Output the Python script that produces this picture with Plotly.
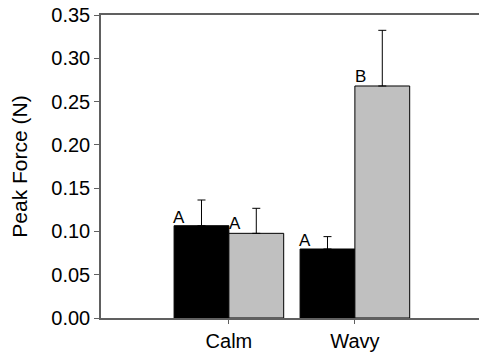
import plotly.graph_objects as go

categories = ["Calm", "Wavy"]
black_vals = [0.1066, 0.0797]
black_err = [0.0297, 0.0143]
grey_vals = [0.0978, 0.2680]
grey_err = [0.0289, 0.0643]
black_letters = ["A", "A"]
grey_letters = ["A", "B"]
y_ticks = [0.00, 0.05, 0.10, 0.15, 0.20, 0.25, 0.30, 0.35]

pos = [1, 2]
bar_w = 0.435
font = "Liberation Sans, Arial, sans-serif"

fig = go.Figure()
fig.add_trace(go.Bar(
    x=pos, y=black_vals, width=bar_w, offset=-bar_w,
    marker=dict(color="black", line=dict(color="black", width=1)),
    error_y=dict(type="data", array=black_err, arrayminus=[0] * len(black_err),
                 symmetric=False, thickness=1, width=4, color="black"),
    showlegend=False,
))
fig.add_trace(go.Bar(
    x=pos, y=grey_vals, width=bar_w, offset=0,
    marker=dict(color="#c0c0c0", line=dict(color="black", width=1)),
    error_y=dict(type="data", array=grey_err, arrayminus=[0] * len(grey_err),
                 symmetric=False, thickness=1, width=4, color="black"),
    showlegend=False,
))

annotations = []
for p, v, t in zip(pos, black_vals, black_letters):
    annotations.append(dict(x=p - bar_w, y=v, text=t, xanchor="left", yanchor="bottom",
                            showarrow=False, font=dict(family=font, size=17, color="black"),
                            xshift=-3, yshift=-3))
for p, v, t in zip(pos, grey_vals, grey_letters):
    annotations.append(dict(x=p, y=v, text=t, xanchor="left", yanchor="bottom",
                            showarrow=False, font=dict(family=font, size=17, color="black"),
                            xshift=-2, yshift=-2))

fig.update_layout(
    width=479, height=354,
    margin=dict(l=101, r=0, t=15, b=36),
    plot_bgcolor="white", paper_bgcolor="white",
    font=dict(family=font, size=20, color="black"),
    annotations=annotations,
    xaxis=dict(range=[-0.015, 2.985], tickvals=pos, ticktext=categories,
               showline=True, linecolor="#606060", linewidth=1.5, mirror=True,
               ticks="outside", ticklen=4, tickcolor="#606060", showgrid=False,
               zeroline=False, tickfont=dict(size=20)),
    yaxis=dict(range=[0, 0.35], tickvals=y_ticks, tickformat=".2f",
               showline=True, linecolor="#606060", linewidth=1.5,
               ticks="outside", ticklen=5, tickcolor="#606060", showgrid=False,
               zeroline=False, tickfont=dict(size=20),
               title=dict(text="Peak Force (N)", font=dict(size=21), standoff=18)),
)

fig.write_html("out.html")
